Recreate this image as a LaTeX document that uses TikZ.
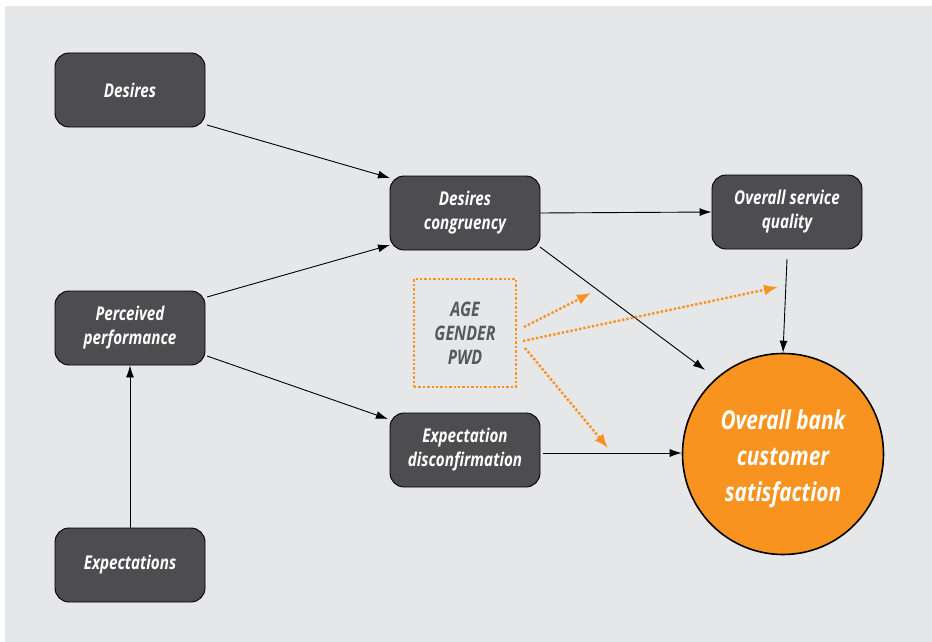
\documentclass[tikz,border=0pt]{standalone}
\usepackage{fontspec}
\setmainfont{Open Sans}[FakeStretch=0.8]
\usetikzlibrary{arrows.meta}
\definecolor{bg}{HTML}{E6E7E8}
\definecolor{boxfill}{HTML}{4D4D4F}
\definecolor{orng}{HTML}{F7931E}
\definecolor{gtext}{HTML}{58595B}
\newcommand{\twoln}[2]{\raisebox{-3pt}{\begin{tabular}{@{}c@{}}#1\\#2\end{tabular}}}
\tikzset{
  box/.style={draw=black, line width=0.9pt, fill=boxfill, rounded corners=14pt,
    minimum width=150pt, minimum height=74pt, text=white, align=center,
    font=\fontsize{19}{24}\selectfont\bfseries\itshape, inner sep=0pt},
  conn/.style={line width=0.9pt, -{Latex[length=12pt,width=8pt]}},
  oconn/.style={orng, line width=2.4pt, dotted, -{Latex[length=14pt,width=11pt]}}
}
\begin{document}
\begin{tikzpicture}[x=1pt,y=-1pt]
\useasboundingbox (0,0) rectangle (932,642);
\fill[bg] (5,6) rectangle (932,642);
\node[box] (des) at (130,90) {\raisebox{-2pt}{Desires}};
\node[box] (per) at (130,328) {\twoln{Perceived}{performance}};
\node[box] (exp) at (130,565) {\raisebox{-2pt}{Expectations}};
\node[box] (dc) at (465,213) {\twoln{Desires}{congruency}};
\node[box] (ed) at (465,450) {\twoln{Expectation}{disconfirmation}};
\node[box] (osq) at (787,212) {\twoln{Overall service}{quality}};
\node[circle, draw=black, line width=1.6pt, fill=orng, minimum size=201pt, inner sep=0pt] (sat) at (783,454) {};
\node[text=white, align=center, font=\fontsize{26}{36}\selectfont\bfseries\itshape] (satl) at (783,459)
  {Overall bank\\customer\\satisfaction};
\node[draw=orng, line width=2.4pt, dotted, minimum width=102pt, minimum height=108pt,
  text=gtext, align=center, font=\fontsize{20}{24}\selectfont\bfseries\itshape, inner sep=0pt] (demo) at (465,333)
  {AGE\\GENDER\\PWD};
\coordinate (d1) at (207,125);
\coordinate (d2) at (390,178);
\draw[conn] (d1) -- (d2);
\coordinate (p1) at (207,297);
\coordinate (p2) at (390,245);
\draw[conn] (p1) -- (p2);
\coordinate (p3) at (207,356);
\coordinate (p4) at (388,419);
\draw[conn] (p3) -- (p4);
\draw[conn] (exp.north) -- (per.south);
\draw[conn] (dc.east) -- (osq.west);
\coordinate (c1) at (540,247);
\coordinate (c2) at (705,370);
\draw[conn] (c1) -- (c2);
\coordinate (q1) at (787,259);
\draw[conn] (q1) -- (sat.north);
\coordinate (e1) at (543,453);
\draw[conn] (e1) -- (sat.west |- e1);
\coordinate (o0) at (524,327);
\coordinate (o1) at (591,293);
\coordinate (o2) at (778,287);
\coordinate (o3) at (608,448);
\coordinate (o4) at (523,341);
\coordinate (o5) at (525,348);
\draw[oconn] (o0) -- (o1);
\draw[oconn] (o4) -- (o2);
\draw[oconn] (o5) -- (o3);
\end{tikzpicture}
\end{document}
